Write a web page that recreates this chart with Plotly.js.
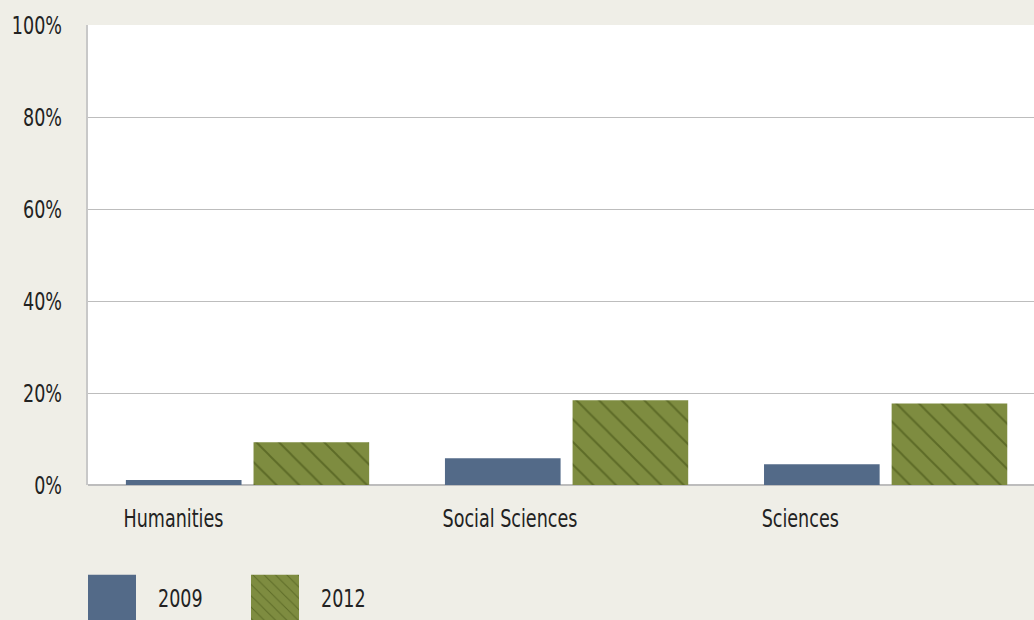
<!DOCTYPE html>
<html><head><meta charset="utf-8">
<script src="https://cdn.plot.ly/plotly-3.0.1.min.js"></script>
<style>html,body{margin:0;padding:0;background:#efeee7;}</style>
</head><body>
<div id="chart" style="width:1034px;height:620px;"></div>
<script>
const categories = ["Humanities", "Social Sciences", "Sciences"];
const values2009 = [1.1, 5.8, 4.5];
const values2012 = [9.3, 18.4, 17.7];
const seriesNames = ["2009", "2012"];
const yTicks = [0, 20, 40, 60, 80, 100];
const yTickText = ["0%", "20%", "40%", "60%", "80%", "100%"];

const FONT = '"DejaVu Sans Condensed", "DejaVu Sans", sans-serif';
const FS = 25;

const traces = [
  {type:'bar', name: seriesNames[0], x: categories, y: values2009,
   marker:{color:'#536a88', line:{width:0}}, hoverinfo:'skip'},
  {type:'bar', name: seriesNames[1], x: categories, y: values2012,
   marker:{color:'#7e8c40', line:{width:0},
     pattern:{shape:'\\', size:16, solidity:0.12, fgcolor:'#5d6b27', bgcolor:'#7e8c40', fillmode:'replace'}},
   hoverinfo:'skip'}
];

const layout = {
  width:1034, height:620,
  paper_bgcolor:'#efeee7', plot_bgcolor:'#ffffff',
  margin:{l:88, r:0, t:25, b:132},
  font:{family:FONT, size:FS, color:'#222'},
  barmode:'group', bargap:0.2, bargroupgap:0.094,
  xaxis:{type:'category', range:[-0.5, 2.465], showgrid:false, zeroline:false,
    showline:false, ticks:'', ticklabelposition:'outside right', ticklabelshift:-124,
    ticklabelstandoff:16, tickfont:{family:FONT, size:FS, color:'#222'}},
  yaxis:{range:[0,100], tickvals:yTicks, ticktext:yTickText, showgrid:true,
    gridcolor:'#bdbdbd', gridwidth:1, zeroline:true, zerolinecolor:'#bdbdbd', zerolinewidth:2,
    showline:true, linecolor:'#c8c8c8', linewidth:2, ticks:'', ticklabelstandoff:19,
    tickfont:{family:FONT, size:FS, color:'#222'}},
  showlegend:true,
  legend:{orientation:'h', x:0, xanchor:'left', y:-0.244, yanchor:'middle',
    bgcolor:'rgba(0,0,0,0)', font:{family:FONT, size:FS, color:'#222'},
    itemwidth:60, entrywidth:88, entrywidthmode:'pixels', traceorder:'normal'}
};

Plotly.newPlot('chart', traces, layout, {displayModeBar:false, staticPlot:true}).then(function(){
  document.querySelectorAll('.legend .scrollbox').forEach(e=>e.removeAttribute('clip-path'));
  document.querySelectorAll('.legend .legendpoints path').forEach(p=>{
    p.setAttribute('d','M-35,-22H13V26H-35Z');
  });
  document.querySelectorAll('#chart svg text').forEach(t=>{
    const len = t.getComputedTextLength();
    if (len > 0) {
      t.setAttribute('textLength', (len*0.78).toFixed(1));
      t.setAttribute('lengthAdjust', 'spacingAndGlyphs');
    }
  });
});
</script>
</body></html>
